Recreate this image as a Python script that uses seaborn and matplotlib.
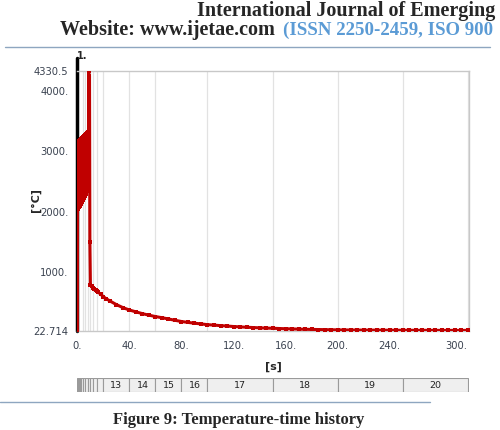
import numpy as np
import pandas as pd
import matplotlib
matplotlib.use("Agg")
import matplotlib.pyplot as plt
import seaborn as sns

# --- du lieu: nhiet do theo thoi gian (doc tu hinh) ---
t_osc = [0.0, 0.15, 0.4, 0.65, 0.9, 1.15, 1.4, 1.65, 1.9, 2.15, 2.4, 2.65, 2.9, 3.15,
         3.4, 3.65, 3.9, 4.15, 4.4, 4.65, 4.9, 5.15, 5.4, 5.65, 5.9, 6.15, 6.4, 6.65,
         6.9, 7.15, 7.4, 7.65, 7.9, 8.15, 8.4, 8.7, 9.0, 9.3, 9.6, 10.0]
temp_osc = [22.714, 3150, 2050, 3160, 2070, 3170, 2090, 3180, 2100, 3190, 2120, 3200,
            2140, 3210, 2160, 3220, 2180, 3230, 2200, 3240, 2220, 3250, 2240, 3260,
            2260, 3270, 2290, 3280, 2320, 3290, 2350, 3300, 2380, 3320, 2420, 4330.5,
            2600, 4250, 1500, 790]

t_cool = [11, 12, 13, 14, 15, 16, 18, 20, 22, 25, 30, 35, 40, 45, 50, 55, 60, 65, 70,
          75, 80, 85, 90, 95, 100, 105, 110, 115, 120, 125, 130, 135, 140, 145, 150,
          155, 160, 165, 170, 175, 180, 185, 190, 195, 200, 205, 210, 215, 220, 225,
          230, 235, 240, 245, 250, 255, 260, 265, 270, 275, 280, 285, 290, 295, 300]
temp_cool = [765, 740, 720, 700, 685, 665, 630, 590, 560, 520, 460, 410, 370, 340, 310,
             285, 262, 243, 222, 200, 180, 165, 152, 140, 128, 120, 112, 105, 97, 91,
             85, 80, 75, 71, 68, 64, 60, 57, 54, 51, 49, 47, 45, 43, 41, 40, 39, 38,
             38, 37, 37, 36, 36, 35, 35, 35, 34, 34, 34, 34, 33, 33, 33, 33, 33]

# cac buoc thoi gian (step) - diem ket thuc cua tung buoc
step_no = list(range(1, 21))
step_end = [0.5, 1, 1.5, 2, 3, 4, 6, 8, 10, 12, 15, 20, 40, 60, 80, 100, 150, 200, 250, 300]
grid_lines = [4, 6, 8, 10, 12, 15, 20, 40, 60, 100, 150, 200, 250, 300]

y_ticks = [22.714, 1000, 2000, 3000, 4000, 4330.5]
y_labels = ["22.714", "1000.", "2000.", "3000.", "4000.", "4330.5"]
x_ticks = [0, 40, 80, 120, 160, 200, 240, 300]
x_labels = ["0.", "40.", "80.", "120.", "160.", "200.", "240.", "300."]

df = pd.DataFrame({"time": t_osc + t_cool, "temp": temp_osc + temp_cool})

sns.set_style("white")
plt.rcParams["font.family"] = ["DejaVu Sans"]

W, H = 500, 430
fig = plt.figure(figsize=(W / 100, H / 100), dpi=100)
red = "#c00000"
tick_col = "#3a4250"

# --- truc chinh ---
ax = fig.add_axes([77 / W, 1 - 331 / H, 392 / W, 260 / H])
for g in grid_lines:
    ax.axvline(g, color="#e2e2e2", lw=0.9, zorder=0)
ax.axvline(0, ymin=0, ymax=1.05, color="black", lw=2.5, zorder=1, clip_on=False)
sns.lineplot(data=df, x="time", y="temp", sort=False, estimator=None, ax=ax,
             color=red, lw=2.2, marker="s", markersize=2.6, markeredgewidth=0,
             zorder=3)
ax.set_xlim(-0.3, 301)
ax.set_ylim(22.714, 4330.5)
ax.set_yticks(y_ticks)
ax.set_yticklabels(y_labels)
ax.set_xticks(x_ticks)
ax.set_xticklabels(x_labels)
ax.tick_params(axis="both", labelsize=7.2, colors="#909090", labelcolor=tick_col,
               length=4, width=0.8, pad=3)
ax.tick_params(axis="y", pad=2)
for lab in ax.get_xticklabels():
    if lab.get_text() == "300.":
        lab.set_ha("right")
ax.set_xlabel("")
ax.set_ylabel("")
ax.spines["left"].set_visible(False)
for s in ["top", "right", "bottom"]:
    ax.spines[s].set_color("#c8c8c8")
    ax.spines[s].set_linewidth(1)

fig.text(82 / W, 1 - 56 / H, "1.", fontsize=7, fontweight="bold", ha="center", va="center")
fig.text(36 / W, 1 - 200 / H, "[°C]", fontsize=8, fontweight="bold", rotation=90,
         ha="center", va="center")
fig.text(273 / W, 1 - 367 / H, "[s]", fontsize=8, fontweight="bold", ha="center", va="center")

# --- thanh cac buoc ---
ax2 = fig.add_axes([77 / W, 1 - 392 / H, 392 / W, 14 / H])
starts = [0] + step_end[:-1]
widths = [e - s for s, e in zip(starts, step_end)]
ax2.bar(starts, [1] * len(starts), width=widths, align="edge", color="#efefef",
        edgecolor="#9a9a9a", lw=0.8)
for n, s, w in zip(step_no, starts, widths):
    if n >= 13:
        ax2.text(s + w / 2, 0.5, str(n), fontsize=6.8, color="#222222",
                 ha="center", va="center")
ax2.set_xlim(-0.3, 301)
ax2.set_ylim(0, 1)
ax2.axis("off")

# --- phan dau va cuoi trang ---
serif = ["Liberation Serif", "DejaVu Serif"]
fig.text(495 / W, 1 - 1 / H, "International Journal of Emerging", family=serif,
         fontsize=14.5, fontweight="bold", va="top", ha="right")
fig.text(60 / W, 1 - 35 / H, "Website: www.ijetae.com", family=serif,
         fontsize=14.5, fontweight="bold", va="baseline", ha="left")
fig.text(283 / W, 1 - 35 / H, "(ISSN 2250-2459, ISO 900", family=serif,
         fontsize=13.6, fontweight="bold", va="baseline", ha="left", color="#5b9bd5")
fig.add_artist(plt.Line2D([5 / W, 490 / W], [1 - 47 / H, 1 - 47 / H], color="#8ea6c0", lw=1))
fig.add_artist(plt.Line2D([0, 430 / W], [1 - 402 / H, 1 - 402 / H], color="#8ea6c0", lw=1))
fig.text(113 / W, 1 - 428 / H, "Figure 9: Temperature-time history", family=serif,
         fontsize=12, fontweight="bold", va="bottom", ha="left")

fig.savefig("out.png", dpi=100)
